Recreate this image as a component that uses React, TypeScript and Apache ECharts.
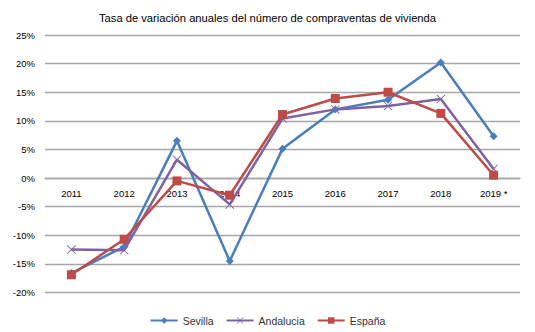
import React, { useEffect, useRef } from "react";
import * as echarts from "echarts";

const categories = ["2011", "2012", "2013", "2014", "2015", "2016", "2017", "2018", "2019*"];
const sevilla = [-16.6, -12.0, 6.5, -14.5, 5.1, 12.0, 13.7, 20.2, 7.3];
const andalucia = [-12.5, -12.6, 3.2, -4.6, 10.4, 12.0, 12.6, 13.8, 1.6];
const espana = [-16.9, -10.7, -0.5, -3.0, 11.1, 13.9, 15.0, 11.3, 0.5];
const title = "Tasa de variación anuales del número de compraventas de vivienda";
const Y_MIN = -20;
const Y_MAX = 25;

const FONT = "Liberation Sans";
const X_SYMBOL =
  "path://M0,0.7 L0.7,0 L5,4.3 L9.3,0 L10,0.7 L5.7,5 L10,9.3 L9.3,10 L5,5.7 L0.7,10 L0,9.3 L4.3,5 Z";

export default function App() {
  const ref = useRef<HTMLDivElement>(null);
  useEffect(() => {
    if (!ref.current) return;
    const chart = echarts.init(ref.current, null, { renderer: "svg" });
    const gridTop = 35;
    const gridBottom = 39.5;
    const plotH = 332 - gridTop - gridBottom;
    const zeroOffset = -((0 - Y_MIN) / (Y_MAX - Y_MIN)) * plotH;
    const mk = (name: string, data: number[], color: string, symbol: string, size: number) => ({
      name,
      type: "line",
      data,
      symbol,
      symbolSize: size,
      showAllSymbol: true,
      lineStyle: { color, width: 2.5 },
      itemStyle: { color },
    });
    chart.setOption({
      animation: false,
      backgroundColor: "#fff",
      textStyle: { fontFamily: FONT },
      title: {
        text: title,
        left: "center",
        top: 7,
        textStyle: { fontFamily: FONT, fontSize: 11.2, fontWeight: "normal", color: "#000" },
      },
      grid: { left: 45, right: 15, top: gridTop, bottom: gridBottom },
      legend: {
        top: 310,
        left: "center",
        itemWidth: 27,
        itemHeight: 8,
        itemGap: 12,
        textStyle: { fontFamily: FONT, fontSize: 10.5, color: "#333" },
        data: ["Sevilla", "Andalucia", "España"],
      },
      xAxis: {
        type: "category",
        data: categories,
        boundaryGap: true,
        position: "bottom",
        offset: zeroOffset,
        axisLine: { onZero: false, lineStyle: { color: "#a6a6a6", width: 1.3 } },
        axisTick: { show: false },
        axisLabel: {
          interval: 0,
          margin: 10,
          fontFamily: FONT,
          fontSize: 9.5,
          color: "#000",
          formatter: (v: string) => (v === "2019*" ? "2019 *" : v),
        },
      },
      yAxis: {
        type: "value",
        min: Y_MIN,
        max: Y_MAX,
        interval: 5,
        axisLine: { show: false },
        axisTick: { show: false },
        splitLine: { lineStyle: { color: "#a6a6a6", width: 1.3 } },
        axisLabel: {
          margin: 10,
          fontFamily: FONT,
          fontSize: 9.5,
          color: "#000",
          formatter: (v: number) => `${v}%`,
        },
      },
      series: [
        mk("Sevilla", sevilla, "#4A7EBB", "diamond", 8),
        mk("Andalucia", andalucia, "#7E62A1", X_SYMBOL, 9),
        mk("España", espana, "#BE4B48", "rect", 9),
      ],
    });
    return () => chart.dispose();
  }, []);
  return (
    <div
      ref={ref}
      style={{ position: "fixed", left: 0, top: 0, width: 535, height: 332 }}
    />
  );
}
